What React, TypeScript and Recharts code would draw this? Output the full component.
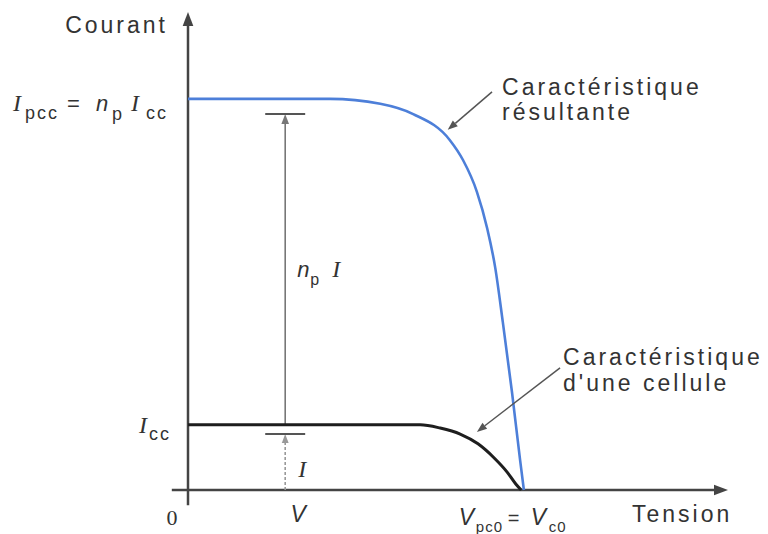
import React from 'react';
import { LineChart, Line, XAxis, YAxis, ReferenceLine } from 'recharts';

// I-V characteristic of one cell and of n_p cells in parallel (arbitrary units)
const resultingV = [0, 2.63, 3.56, 4.17, 4.85, 5.09, 5.35, 5.54, 5.69, 5.83, 6.0, 6.15, 6.22];
const resultingI = [7.2, 7.2, 7.11, 6.92, 6.44, 6.08, 5.49, 4.82, 4.09, 3.09, 1.8, 0.55, 0];
const cellV = [0, 2.0, 3.74, 4.3, 4.67, 5.04, 5.37, 5.67, 5.91, 6.07, 6.17];
const cellI = [1.2, 1.2, 1.2, 1.2, 1.14, 1.03, 0.85, 0.59, 0.33, 0.11, 0];

const I_CC = 1.2;
const I_PCC = 7.2;
const V_OP = 1.8;
const V_OC = 6.2;
const xTicks = [0, V_OP, V_OC];
const yTicks = [I_CC, I_PCC];

const resultingData = resultingV.map((v, i) => ({ v, i: resultingI[i] }));
const cellData = cellV.map((v, i) => ({ v, i: cellI[i] }));

const TEXT = '#333';
const AXIS = '#444';
const SANS = 'Liberation Sans, Arial, sans-serif';
const SERIF = 'Liberation Serif, Times New Roman, serif';

type Deco = (p: { x1: number; y1: number; x2: number; y2: number }) => React.ReactNode;

// line with a filled arrowhead at (x2, y2); deco draws text relative to the ends
const arrowShape = (color: string, width: number, head: number, deco?: Deco, dash?: string) => (props: any) => {
  const { x1, y1, x2, y2 } = props;
  const a = Math.atan2(y2 - y1, x2 - x1);
  const hx = x2 - head * Math.cos(a);
  const hy = y2 - head * Math.sin(a);
  const w = head * 0.38;
  const pts = `${x2},${y2} ${hx + w * Math.sin(a)},${hy - w * Math.cos(a)} ${hx - w * Math.sin(a)},${hy + w * Math.cos(a)}`;
  return (
    <g>
      {head > 0 && <polygon points={pts} fill={color} />}
      <line x1={x1} y1={y1} x2={head > 0 ? hx : x2} y2={head > 0 ? hy : y2} stroke={color} strokeWidth={width} strokeDasharray={dash} />
      {deco && deco({ x1, y1, x2, y2 })}
    </g>
  );
};

const plainShape = (color: string, width: number) => (props: any) => (
  <line x1={props.x1} y1={props.y1} x2={props.x2} y2={props.y2} stroke={color} strokeWidth={width} />
);

const label = (x: number, y: number, s: string, o: any = {}) => (
  <text x={x} y={y} fill={TEXT} fontFamily={SANS} fontSize={23} letterSpacing={3} {...o}>{s}</text>
);

const YTick = (props: any) => {
  const { x, y, payload } = props;
  const serifI = { fontFamily: SERIF, fontStyle: 'italic', fontSize: 24, letterSpacing: 0 };
  const sub = { fontSize: 18, letterSpacing: 2 };
  if (payload.value === I_PCC) {
    return (
      <g>
        {label(x - 175, y + 12, 'I', serifI)}
        {label(x - 163, y + 20, 'pcc', sub)}
        {label(x - 121, y + 12, '=', { fontSize: 22 })}
        {label(x - 92, y + 12, 'n', { fontStyle: 'italic', fontSize: 22, letterSpacing: 0 })}
        {label(x - 76, y + 21, 'p', sub)}
        {label(x - 57, y + 12, 'I', serifI)}
        {label(x - 42, y + 20, 'cc', sub)}
      </g>
    );
  }
  return (
    <g>
      {label(x - 49, y + 8, 'I', serifI)}
      {label(x - 39, y + 15, 'cc', sub)}
    </g>
  );
};

const XTick = (props: any) => {
  const { x, y, payload } = props;
  if (payload.value === 0) {
    return label(x - 16, y + 35, '0', { fontFamily: SERIF, fontSize: 22, letterSpacing: 0, textAnchor: 'middle' });
  }
  if (payload.value === V_OP) {
    return label(x + 13, y + 32, 'V', { fontStyle: 'italic', fontSize: 23, letterSpacing: 0, textAnchor: 'middle' });
  }
  const sub = { fontSize: 15, letterSpacing: 1 };
  const vItal = { fontStyle: 'italic', fontSize: 23, letterSpacing: 0 };
  return (
    <g>
      {label(x - 64, y + 35, 'V', vItal)}
      {label(x - 47, y + 42, 'pc0', sub)}
      {label(x - 15, y + 35, '=', { fontSize: 20 })}
      {label(x + 8, y + 35, 'V', vItal)}
      {label(x + 26, y + 42, 'c0', sub)}
    </g>
  );
};

const App = () => (
  <div style={{ position: 'absolute', left: 0, top: 0, width: 768, height: 534, background: '#fff', fontFamily: SANS }}>
    <LineChart width={768} height={534} margin={{ top: 12, right: 40, bottom: 43, left: 187 }}>
      <XAxis
        type="number"
        dataKey="v"
        domain={[0, 10]}
        ticks={xTicks}
        axisLine={false}
        tickLine={false}
        tickSize={0}
        tickMargin={0}
        height={1}
        tick={<XTick />}
        interval={0}
      />
      <YAxis
        type="number"
        domain={[0, 8.8]}
        ticks={yTicks}
        axisLine={false}
        tickLine={false}
        tickSize={0}
        tickMargin={0}
        width={1}
        tick={<YTick />}
        interval={0}
      />

      {/* axes with arrowheads */}
      <ReferenceLine
        segment={[{ x: -0.3, y: 0 }, { x: 10, y: 0 }]}
        ifOverflow="visible"
        shape={arrowShape(AXIS, 2.5, 14, ({ x2, y2 }) => label(x2 - 96, y2 + 32, 'Tension'))}
      />
      <ReferenceLine
        segment={[{ x: 0, y: -0.28 }, { x: 0, y: 8.8 }]}
        ifOverflow="visible"
        shape={arrowShape(AXIS, 2.5, 14, ({ x2, y2 }) => label(x2 - 20, y2 + 21, 'Courant', { textAnchor: 'end' }))}
      />

      {/* n_p I and I measurement arrows */}
      <ReferenceLine
        segment={[{ x: V_OP, y: I_CC }, { x: V_OP, y: 6.92 }]}
        ifOverflow="visible"
        shape={arrowShape('#777', 1.6, 10, ({ x1, y1, y2 }) => {
          const m = (y1 + y2) / 2;
          return (
            <g>
              {label(x1 + 12, m + 8, 'n', { fontStyle: 'italic', fontSize: 22, letterSpacing: 0 })}
              {label(x1 + 25, m + 16, 'p', { fontSize: 16 })}
              {label(x1 + 47, m + 8, 'I', { fontFamily: SERIF, fontStyle: 'italic', fontSize: 24, letterSpacing: 0 })}
            </g>
          );
        })}
      />
      <ReferenceLine segment={[{ x: 1.43, y: 6.92 }, { x: 2.17, y: 6.92 }]} ifOverflow="visible" shape={plainShape('#555', 2)} />
      <ReferenceLine
        segment={[{ x: V_OP, y: 0 }, { x: V_OP, y: 1.03 }]}
        ifOverflow="visible"
        shape={arrowShape('#999', 1.6, 9, ({ x1, y1, y2 }) =>
          label(x1 + 13, (y1 + y2) / 2 + 15, 'I', { fontFamily: SERIF, fontStyle: 'italic', fontSize: 24, letterSpacing: 0 }), '3 2')}
      />
      <ReferenceLine segment={[{ x: 1.43, y: 1.03 }, { x: 2.17, y: 1.03 }]} ifOverflow="visible" shape={plainShape('#555', 2)} />

      <Line data={cellData} dataKey="i" type="monotone" stroke="#1e1e1e" strokeWidth={3} dot={false} isAnimationActive={false} />
      <Line data={resultingData} dataKey="i" type="monotone" stroke="#4d7fd9" strokeWidth={2.6} dot={false} isAnimationActive={false} />

      {/* curve annotations */}
      <ReferenceLine
        segment={[{ x: 5.63, y: 7.33 }, { x: 4.81, y: 6.63 }]}
        ifOverflow="visible"
        shape={arrowShape('#555', 1.5, 10, ({ x1, y1 }) => (
          <g>
            {label(x1 + 10, y1 + 3, 'Caractéristique')}
            {label(x1 + 10, y1 + 28, 'résultante')}
          </g>
        ))}
      />
      <ReferenceLine
        segment={[{ x: 6.89, y: 2.25 }, { x: 5.35, y: 1.07 }]}
        ifOverflow="visible"
        shape={arrowShape('#555', 1.5, 10, ({ x1, y1 }) => (
          <g>
            {label(x1 + 3, y1 - 3, 'Caractéristique')}
            {label(x1 + 3, y1 + 23, "d'une cellule")}
          </g>
        ))}
      />
    </LineChart>
  </div>
);

export default App;
